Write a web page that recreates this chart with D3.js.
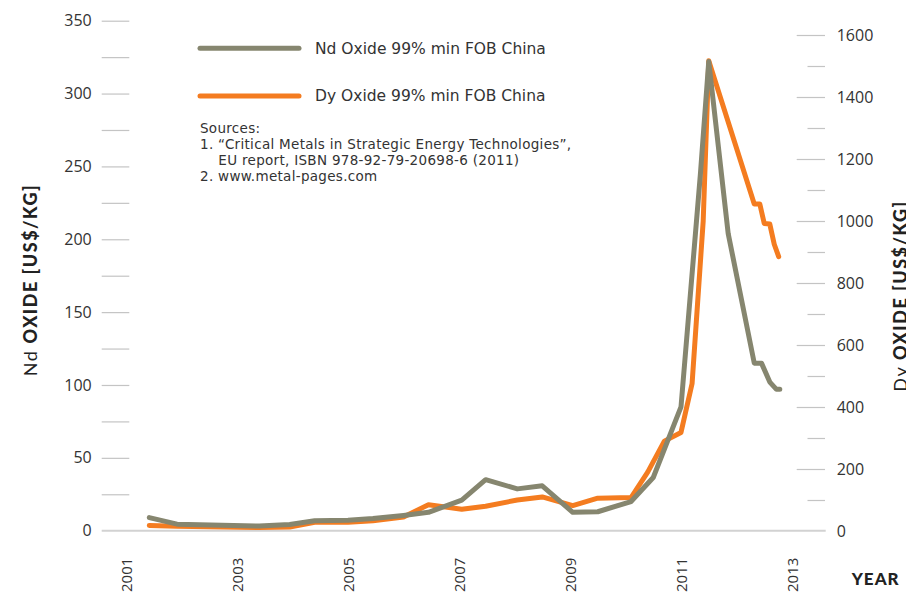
<!DOCTYPE html>
<html>
<head>
<meta charset="utf-8">
<script src="https://cdn.jsdelivr.net/npm/d3@7"></script>
<style>
  body { margin: 0; background: #fff; }
  svg { display: block; }
  .tick text { fill: #333; font-family: 'Open Sans', sans-serif; }
</style>
</head>
<body>
<svg></svg>
<script>
// Nd oxide, US$/kg (left axis)
const ndYears = [2001.42, 2001.92, 2003.4, 2003.95, 2004.4, 2005.0, 2005.45, 2006.0, 2006.45, 2007.05, 2007.48,
  2008.05, 2008.5, 2009.05, 2009.5, 2010.1, 2010.5, 2011.0, 2011.35, 2011.5, 2011.85, 2012.32, 2012.45, 2012.6, 2012.72, 2012.78]
const ndValues = [9, 4.5, 3.2, 4.2, 6.8, 7.2, 8.3, 10.5, 12.6, 21, 35,
  28.7, 30.8, 12.6, 13, 20, 36.5, 85, 245, 322, 204, 115, 115, 102, 97, 97]

// Dy oxide, US$/kg (right axis)
const dyYears = [2001.42, 2001.92, 2003.4, 2003.95, 2004.4, 2005.0, 2005.45, 2006.0, 2006.45, 2007.05, 2007.48,
  2008.05, 2008.5, 2009.05, 2009.5, 2010.1, 2010.4, 2010.7, 2011.0, 2011.2, 2011.4, 2011.5,
  2012.32, 2012.42, 2012.5, 2012.6, 2012.68, 2012.76]
const dyValues = [18, 15, 11, 13, 28, 28, 33, 45, 85, 70, 80,
  100, 110, 82, 106, 108, 190, 290, 318, 476, 1000, 1517,
  1055, 1055, 992, 990, 925, 885]

const xTicks = [2001, 2003, 2005, 2007, 2009, 2011, 2013]
const leftTicks = d3.range(25, 351, 25)
const rightTicks = d3.range(100, 1601, 100)

const seriesNames = ['Nd Oxide 99% min FOB China', 'Dy Oxide 99% min FOB China']
const sources = ['Sources:', '1. \u201cCritical Metals in Strategic Energy Technologies\u201d,',
  '    EU report, ISBN 978-92-79-20698-6 (2011)', '2. www.metal-pages.com']

const width = 906
const height = 599
const grey = '#86866f'
const orange = '#f47c20'

const svg = d3.select('svg')
              .attr('width', width)
              .attr('height', height)

const xScale = d3.scaleLinear().domain([2001, 2013]).range([126, 792])
const yLeft = d3.scaleLinear().domain([0, 350]).range([530.7, 20.7])
const yRight = d3.scaleLinear().domain([0, 1600]).range([531, 35])

// left axis
const leftAxis = d3.axisLeft(yLeft)
                   .tickValues(leftTicks)
                   .tickSize(27.6)
                   .tickPadding(10)
                   .tickFormat(d => d % 50 === 0 ? d : '')
svg.append('g')
   .attr('transform', 'translate(129.3,0)')
   .call(leftAxis)
   .call(g => g.select('.domain').remove())
   .call(g => g.selectAll('.tick line').attr('stroke', '#c4c4c4').attr('stroke-width', 1.2))
   .call(g => g.selectAll('.tick text').style('font-size', '16px'))

svg.append('text')
   .attr('x', 91.7).attr('y', yLeft(0)).attr('dy', '0.35em')
   .attr('text-anchor', 'end')
   .style('font-family', 'Open Sans, sans-serif').style('font-size', '16px').attr('fill', '#333')
   .text('0')

// right axis
const rightAxis = d3.axisRight(yRight)
                    .tickValues(rightTicks)
                    .tickSize(28.3)
                    .tickPadding(11.7)
                    .tickFormat(d => d % 200 === 0 ? d : '')
svg.append('g')
   .attr('transform', 'translate(796.7,0)')
   .call(rightAxis)
   .call(g => g.select('.domain').remove())
   .call(g => g.selectAll('.tick line').attr('stroke', '#c4c4c4').attr('stroke-width', 1.2))
   .call(g => g.selectAll('.tick').filter(d => d % 200 !== 0).select('line').attr('x1', 10.8))
   .call(g => g.selectAll('.tick text').style('font-size', '16px'))

svg.append('text')
   .attr('x', 836.7).attr('y', yRight(0)).attr('dy', '0.35em')
   .style('font-family', 'Open Sans, sans-serif').style('font-size', '16px').attr('fill', '#333')
   .text('0')

// baseline
svg.append('line')
   .attr('x1', 101.7).attr('x2', 825.7)
   .attr('y1', yLeft(0)).attr('y2', yLeft(0))
   .attr('stroke', '#d2d2d2').attr('stroke-width', 2)

// x axis
const xAxis = d3.axisBottom(xScale)
                .tickValues(xTicks)
                .tickSize(0)
                .tickFormat(d3.format('d'))
svg.append('g')
   .attr('transform', `translate(0,${yLeft(0)})`)
   .call(xAxis)
   .call(g => g.select('.domain').remove())
   .call(g => g.selectAll('.tick text')
               .attr('transform', 'rotate(-90)')
               .attr('x', -27).attr('y', 0).attr('dy', '0.35em')
               .attr('text-anchor', 'end')
               .style('font-size', '15px'))

// lines
const dyData = dyYears.map((t, i) => [t, dyValues[i]])
const ndData = ndYears.map((t, i) => [t, ndValues[i]])

svg.append('path')
   .datum(dyData)
   .attr('fill', 'none')
   .attr('stroke', orange)
   .attr('stroke-width', 5)
   .attr('stroke-linejoin', 'round')
   .attr('stroke-linecap', 'round')
   .attr('d', d3.line().x(d => xScale(d[0])).y(d => yRight(d[1])))

svg.append('path')
   .datum(ndData)
   .attr('fill', 'none')
   .attr('stroke', grey)
   .attr('stroke-width', 5)
   .attr('stroke-linejoin', 'round')
   .attr('stroke-linecap', 'round')
   .attr('d', d3.line().x(d => xScale(d[0])).y(d => yLeft(d[1])))

// axis titles
const titleFont = 'Lato, sans-serif'
const leftTitle = svg.append('text')
   .attr('transform', 'translate(37,280) rotate(-90)')
   .attr('text-anchor', 'middle')
   .style('font-family', titleFont).style('font-size', '18px')
   .style('letter-spacing', '1.5px')
   .attr('fill', '#222')
leftTitle.append('tspan').style('font-weight', 400).text('Nd ')
leftTitle.append('tspan').style('font-weight', 900).text('OXIDE [US$/KG]')

// the reference cuts this one off at the right edge too
const rightTitle = svg.append('text')
   .attr('transform', 'translate(907,296) rotate(-90)')
   .attr('text-anchor', 'middle')
   .style('font-family', titleFont).style('font-size', '18px')
   .style('letter-spacing', '1.5px')
   .attr('fill', '#222')
rightTitle.append('tspan').style('font-weight', 400).text('Dy ')
rightTitle.append('tspan').style('font-weight', 900).text('OXIDE [US$/KG]')

svg.append('text')
   .attr('x', 851.7).attr('y', 579.3).attr('dy', '0.35em')
   .style('font-family', titleFont).style('font-size', '17px').style('font-weight', 900)
   .style('letter-spacing', '1px')
   .attr('fill', '#222')
   .text('YEAR')

// legend
const legend = svg.append('g')
const legendColors = [grey, orange]
const legendY = [48.3, 96]
seriesNames.forEach((name, i) => {
  legend.append('line')
        .attr('x1', 200).attr('x2', 299)
        .attr('y1', legendY[i]).attr('y2', legendY[i])
        .attr('stroke', legendColors[i]).attr('stroke-width', 5)
        .attr('stroke-linecap', 'round')
  legend.append('text')
        .attr('x', 315).attr('y', legendY[i]).attr('dy', '0.35em')
        .style('font-family', 'DejaVu Sans, sans-serif').style('font-size', '15.5px')
        .attr('fill', '#333')
        .text(name)
})

sources.forEach((s, i) => {
  legend.append('text')
        .attr('x', 200).attr('y', 128.3 + i * 16).attr('dy', '0.35em')
        .style('font-family', 'DejaVu Sans, sans-serif').style('font-size', '13.5px')
        .style('letter-spacing', '0.3px')
        .style('white-space', 'pre')
        .attr('xml:space', 'preserve')
        .attr('fill', '#333')
        .text(s)
})
</script>
</body>
</html>
